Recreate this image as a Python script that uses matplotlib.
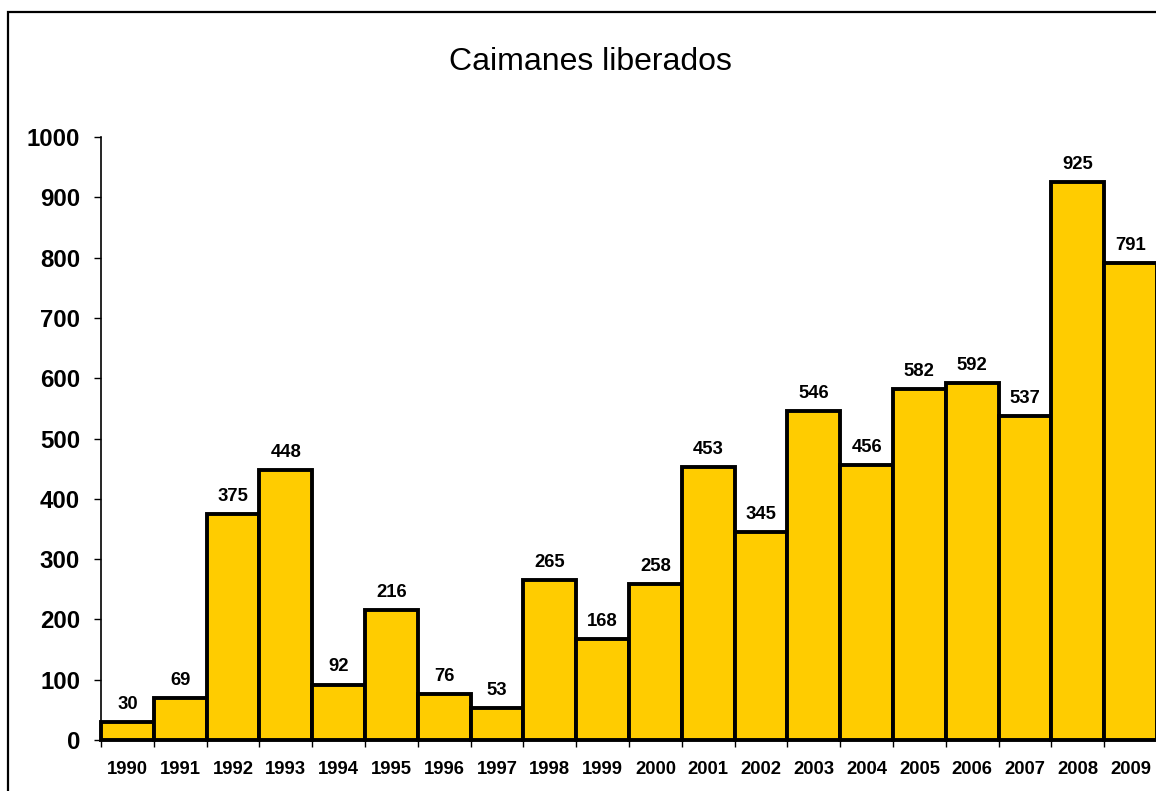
import numpy as np
import matplotlib
matplotlib.use("Agg")
import matplotlib.pyplot as plt
from matplotlib.patches import Rectangle

plt.rcParams['font.family'] = ['Liberation Sans', 'DejaVu Sans']

# data
years = [str(y) for y in range(1990, 2010)]
liberados = [30, 69, 375, 448, 92, 216, 76, 53, 265, 168,
             258, 453, 345, 546, 456, 582, 592, 537, 925, 791]
yticks = list(range(0, 1001, 100))

W, H = 1156, 791
fig = plt.figure(figsize=(W / 100, H / 100), dpi=100)

# outer chart border (cut off on right and bottom like the original)
fig.patches.append(Rectangle((8 / W, -0.05), 1.2, 1.05 - 12 / H,
                             transform=fig.transFigure, fill=False,
                             edgecolor='black', linewidth=1.6))

ax = fig.add_axes([101 / W, 51 / H, 1056 / W, 603 / H])
x = np.arange(len(years))
ax.bar(x, liberados, width=1.0, color='#FFCC00', edgecolor='black',
       linewidth=2.8, align='center', clip_on=False)

for xi, v in zip(x, liberados):
    ax.text(xi, v + 15, str(v), ha='center', va='bottom',
            fontsize=13.3, fontweight='bold')

ax.set_xlim(-0.5, len(years) - 0.5)
ax.set_ylim(0, 1000)
ax.set_yticks(yticks)
ax.set_yticklabels([str(t) for t in yticks], fontsize=17.3, fontweight='bold')
ax.set_xticks(x - 0.5, minor=False)
ax.set_xticklabels([''] * len(x))
ax.set_xticks(x, minor=True)
ax.set_xticklabels(years, minor=True, fontsize=13.3, fontweight='bold')
ax.tick_params(axis='x', which='minor', length=0, pad=15)
ax.tick_params(axis='x', which='major', length=5, width=1, direction='out')
ax.tick_params(axis='y', length=5, width=1, direction='out', pad=10)

for s in ['top', 'right']:
    ax.spines[s].set_visible(False)
ax.spines['left'].set_linewidth(1.2)
ax.spines['bottom'].set_linewidth(1.2)

fig.text(590 / W, 1 - 62 / H, 'Caimanes liberados', ha='center',
         va='center', fontsize=23)

fig.savefig('out.png', dpi=100)
